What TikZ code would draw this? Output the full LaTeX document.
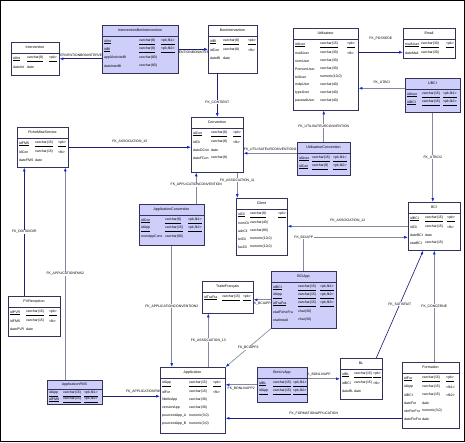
\documentclass[tikz,border=0pt]{standalone}
\usepackage{fontspec}
\setmainfont{Liberation Sans}
\usetikzlibrary{arrows.meta,backgrounds}

\definecolor{tblline}{RGB}{50,50,90}
\definecolor{assocfill}{RGB}{206,206,250}
\definecolor{fkdarkc}{RGB}{30,30,110}
\definecolor{fklightc}{RGB}{135,135,155}
\definecolor{tipblue}{RGB}{20,40,220}

\tikzset{
  col2/.store in=\colb, col3/.store in=\colc, tfill/.store in=\tfill,
  hdr/.store in=\hdr, rowa/.store in=\rowa, pitch/.store in=\pitch,
  col2=15, col3=40, tfill=white, hdr=11, rowa=17, pitch=8,
  tblbox/.style={draw=tblline, line width=0.55pt, inner sep=0pt},
  tbltitle/.style={font=\fontsize{3.6}{4.2}\selectfont, inner sep=0pt},
  rowtxt/.style={font=\fontsize{3.5}{4.2}\selectfont, inner sep=0pt, anchor=west},
  lbl/.style={font=\fontsize{3.4}{4}\selectfont, inner sep=0.6pt},
  fk/.style={line width=0.65pt, -{Latex[length=3.8pt,width=2.8pt,color=tipblue]}},
  fkdark/.style={fk, draw=fkdarkc},
  fklight/.style={fk, draw=fklightc},
}

\newcommand{\keyul}[2]{\ifnum#1=1 \underline{#2}\else #2\fi}
% table: [options]{name}{left}{top}{width}{height}{title}{rows}
\newcommand{\dbtable}[8][]{%
  \begin{scope}[#1]
  \node[tblbox, fill=\tfill, minimum width=#5, minimum height=#6, anchor=north west] (#2) at (#3,#4) {};
  \node[tbltitle] at (#3+#5/2,#4+\hdr/2) {#7};
  \draw[tblline, line width=0.4pt] (#3,#4+\hdr) -- ++(#5,0);
  \foreach \cn/\ct/\ck/\cu [count=\ci from 0] in {#8} {
    \node[rowtxt] at (#3+2,#4+\rowa+\pitch*\ci) {\keyul{\cu}{\cn}};
    \node[rowtxt] at (#3+\colb,#4+\rowa+\pitch*\ci) {\keyul{\cu}{\ct}};
    \node[rowtxt] at (#3+\colc,#4+\rowa+\pitch*\ci) {\keyul{\cu}{\ck}};
  }
  \end{scope}}

\begin{document}
\begin{tikzpicture}[x=1pt,y=-1pt]
\useasboundingbox (0,0) rectangle (465,442);
\draw[line width=1pt] (0.5,0.5) rectangle (464.5,441.5);

% tables
\dbtable[col2=16,col3=38]{inter}{11}{42}{48}{33}{Intervention}{
  idInt/varchar(8)/{<pk>}/1, dateInt/date/{}/0}
\dbtable[col2=37,col3=59,tfill=assocfill]{interbi}{102}{25}{76}{48}{InterventionBonIntervention}{
  idInt/varchar(8)/{<pk,fk1>}/1, idBI/varchar(8)/{<pk,fk2>}/1,
  appliActiviteBI/varchar(80)/{}/0, dateInterBI/varchar(80)/{}/0}
\dbtable[col2=15,col3=40]{bonint}{208}{25}{49}{48}{BonIntervention}{
  idBI/varchar(8)/{<pk>}/1, idCon/varchar(8)/{<fk>}/0, dateBI/date/{}/0}
\dbtable[col2=27,col3=54]{util}{293}{28}{65}{82}{Utilisateur}{
  idUser/varchar(15)/{<pk>}/1, mailUser/varchar(30)/{<fk>}/0,
  nomUser/varchar(30)/{}/0, PrenomUser/varchar(30)/{}/0,
  telUser/{numeric(10,0)}/{}/0, mdpUser/varchar(40)/{}/0,
  typeUser/varchar(40)/{}/0, passwdUser/varchar(40)/{}/0}
\dbtable[col2=18,col3=43]{email}{403}{28}{52}{30}{Email}{
  mailUser/varchar(30)/{<pk>}/1, dateMail/varchar(30)/{}/0}
\dbtable[col2=17,col3=38,tfill=assocfill]{ubci}{405}{78}{55}{34}{UBCI}{
  idUser/varchar(15)/{<pk,fk1>}/1, idBCI/varchar(15)/{<pk,fk2>}/1}
\dbtable[col2=20,col3=42]{conv}{191}{117}{52}{55}{Convention}{
  idCon/varchar(8)/{<pk>}/1, idCli/varchar(8)/{<fk>}/0,
  dateDCon/date/{}/0, dateFCon/varchar(8)/{}/0}
\dbtable[col2=15,col3=36,tfill=assocfill]{utilconv}{297}{142}{53}{33}{UtilisateurConvention}{
  idUser/varchar(15)/{<pk,fk1>}/1, idCon/varchar(8)/{<pk,fk2>}/1}
\dbtable[col2=18,col3=41]{fms}{17}{127}{51}{40}{FicheMiseService}{
  idFMS/varchar(15)/{<pk>}/1, idCon/varchar(15)/{<fk>}/0, dateFMS/date/{}/0}
\dbtable[col2=18,col3=41]{pvr}{8}{296}{52}{40}{PVReception}{
  idPVR/varchar(15)/{<pk>}/1, idFMS/varchar(15)/{<fk>}/0, datePVR/date/{}/0}
\dbtable[col2=16,col3=37,tfill=assocfill,hdr=9,rowa=14,pitch=6]{appfms}{47}{380}{55}{24}{ApplicationFMS}{
  idApp/varchar(15)/{<pk,fk1>}/1, idFMS/varchar(15)/{<pk,fk2>}/1}
\dbtable[col2=26,col3=49,tfill=assocfill]{appconv}{139}{204}{65}{41}{ApplicationConvention}{
  idCon/varchar(8)/{<pk,fk1>}/1, idApp/varchar(15)/{<pk,fk2>}/1,
  numAppConv/varchar(80)/{}/0}
\dbtable[col2=14,col3=42]{client}{236}{198}{51}{57}{Client}{
  idCli/varchar(8)/{<pk>}/1, nomCli/varchar(40)/{}/0, adrCli/varchar(80)/{}/0,
  telCli/{numeric(10,0)}/{}/0, faxCli/{numeric(10,0)}/{}/0}
\dbtable[col2=17,col3=39]{bci}{408}{202}{52}{48}{BCI}{
  idBCI/varchar(15)/{<pk>}/1, idCli/varchar(15)/{<fk>}/0,
  dateBCI/date/{}/0, etatBCI/varchar(15)/{}/0}
\dbtable[col2=27,col3=49,tfill=assocfill]{bciapp}{271}{271}{65}{57}{BCIApp}{
  idBCI/varchar(15)/{<pk,fk1>}/1, idApp/varchar(15)/{<pk,fk2>}/1,
  idTraFra/varchar(15)/{<pk,fk3>}/1, etatFicheFra/char(30)/{}/0,
  etatInstall/char(30)/{}/0}
\dbtable[col2=20,col3=41]{tradfr}{202}{281}{51}{32}{TraiteFrançais}{
  idTraFra/varchar(15)/{<pk>}/1}
\dbtable[col2=29,col3=53]{appli}{160}{367}{65}{66}{Application}{
  idApp/varchar(15)/{<pk>}/1, idFor/varchar(15)/{<fk>}/0,
  libelleApp/varchar(30)/{}/0, versionApp/varchar(30)/{}/0,
  pourcentApp\_A/{numeric(3,0)}/{}/0, pourcentApp\_B/{numeric(3,0)}/{}/0}
\dbtable[col2=16,col3=36,tfill=assocfill]{bonlivapp}{257}{367}{50}{35}{BonLivApp}{
  idBL/varchar(15)/{<pk,fk1>}/1, idApp/varchar(15)/{<pk,fk2>}/1}
\dbtable[col2=14,col3=33]{bl}{340}{358}{42}{41}{BL}{
  idBL/varchar(15)/{<pk>}/1, idBCI/varchar(15)/{<fk>}/0, dateBL/date/{}/0}
\dbtable[col2=20,col3=44]{formation}{402}{362}{57}{66}{Formation}{
  idFor/varchar(15)/{<pk>}/1, idApp/varchar(15)/{<fk1>}/0,
  idBCI/varchar(15)/{<fk2>}/0, dateFor/date/{}/0,
  nbrPerFor/{numeric(3,0)}/{}/0, dateFinFor/date/{}/0}

% references
\begin{scope}[on background layer]
\coordinate (e1) at ([yshift=-9pt]email.west);
\coordinate (f1) at ([yshift=7pt]ubci.west);
\coordinate (h1) at ([yshift=5.5pt]utilconv.west);
\coordinate (j1) at ([xshift=-10pt]pvr.north);
\coordinate (k1) at ([xshift=-9.5pt]appfms.north);
\coordinate (k2) at ([yshift=-4pt]appfms.east);
\coordinate (l1) at ([xshift=24.5pt]appconv.north);
\coordinate (g1) at ([xshift=20pt]conv.south);
\coordinate (n1) at ([yshift=-11pt]bci.west);
\coordinate (q1) at ([xshift=15.5pt]appli.north);
\coordinate (s1) at ([xshift=15pt]bl.north);
\coordinate (n2) at ([xshift=-11pt]bci.south);
\coordinate (t1) at ([yshift=-23pt]formation.west);

\draw[fkdark] (interbi.west |- inter.east) -- node[lbl, above=1pt] {FK\_INTERVENTIONBONINTERVENTION} (inter.east);
\draw[fkdark] (interbi.east) -- node[lbl, below=1pt] {FK\_INTERVENTIONBONINTERVENTION2} (interbi.east -| bonint.west);
\draw[fkdark] (conv.north |- bonint.south) -- node[lbl, fill=white, pos=0.66] {FK\_CONTIENT} (conv.north);
\draw[fkdark] (e1 -| util.east) -- node[lbl, above=11pt] {FK\_POSSEDE} (e1);
\draw[fklight] (f1) -- node[lbl, above=3pt] {FK\_UTBCI} (f1 -| util.east);
\draw[fklight] (ubci.south) -- node[lbl, fill=white] {FK\_UTBCI2} (ubci.south |- bci.north);
\draw[fklight] (utilconv.north) -- node[lbl, fill=white] {FK\_UTILISATEURCONVENTION} (utilconv.north |- util.south);
\draw[fklight] (h1) -- node[lbl, above=1.5pt] {FK\_UTILISATEURCONVENTION2} (h1 -| conv.east);
\draw[fkdark] (fms.east) -- node[lbl, above=3pt] {FK\_ASSOCIATION\_15} (fms.east -| conv.west);
\draw[fkdark] (j1) -- node[lbl, fill=white] {FK\_DOITAVOIR} (j1 |- fms.south);
\draw[fklight] (k1) -- node[lbl, fill=white] {FK\_APPLICATIONFMS2} (k1 |- fms.south);
\draw[fkdark] (k2) -- node[lbl, above=2pt, pos=0.72] {FK\_APPLICATIONFMS} (k2 -| appli.west);
\draw[fklight] (l1) -- node[lbl, fill=white, pos=0.6] {FK\_APPLICATIONCONVENTION} (l1 |- conv.south);
\draw[fklight] (appconv.south) -- node[lbl, fill=white] {FK\_APPLICATIONCONVENTION2} (appconv.south |- appli.north);
\draw[fklight] (g1) -- node[lbl, fill=white, pos=0.3] {FK\_ASSOCIATION\_11} (g1 |- client.north);
\draw[fklight] (bci.west) -- node[lbl, above=3pt] {FK\_ASSOCIATION\_12} (bci.west -| client.east);
\draw[fklight] (bciapp.north) |- node[lbl, fill=white] {FK\_BCIAPP} (n1);
\draw[fklight] (bciapp.west) -- node[lbl, below=1.5pt] {FK\_BCIAPP3} (bciapp.west -| tradfr.east);
\draw[fklight] (bciapp.south west) -- node[lbl, fill=white] {FK\_BCIAPP2} (appli.north east);
\draw[fklight] (q1) -- node[lbl, fill=white] {FK\_ASSOCIATION\_13} (q1 |- tradfr.south);
\draw[fklight] (bonlivapp.west) -- node[lbl, below=1.5pt] {FK\_BONLIVAPP2} (bonlivapp.west -| appli.east);
\draw[fklight] (bonlivapp.east |- bl.west) -- node[lbl, above=1.5pt, pos=0.32] {FK\_BONLIVAPP} (bl.west);
\draw[fkdark] (s1) -- node[lbl, fill=white] {FK\_SATISFAIT} (n2);
\draw[fklight] (bci.south |- formation.north) -- node[lbl, fill=white] {FK\_CONCERNE} (bci.south);
\draw[fkdark] (t1) -- node[lbl, above=2pt] {FK\_FORMATIONAPPLICATION} (t1 -| appli.east);
\end{scope}
\end{tikzpicture}
\end{document}
